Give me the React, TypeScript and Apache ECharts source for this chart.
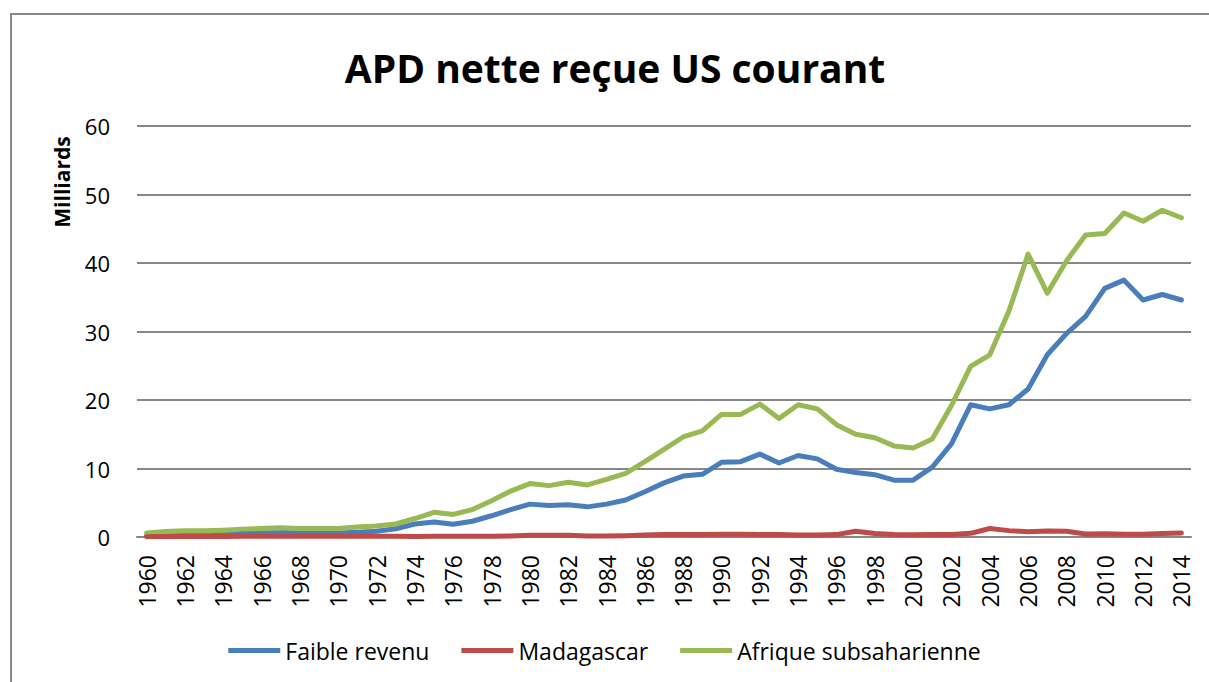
import React, { useEffect, useRef } from "react";
import * as echarts from "echarts";

const years: string[] = [];
for (let y = 1960; y <= 2014; y++) years.push(String(y));

const faibleRevenu = [
  0.2, 0.3, 0.4, 0.45, 0.5, 0.55, 0.6, 0.65, 0.6, 0.6, 0.6,
  0.7, 0.85, 1.2, 1.9, 2.2,
  1.85, 2.3, 3.1, 4.0, 4.8,
  4.6, 4.7, 4.4, 4.8, 5.4,
  6.6, 7.9, 8.9, 9.15, 10.9,
  11.0, 12.1, 10.8, 11.9, 11.4,
  9.9, 9.4, 9.1, 8.3, 8.3,
  10.2, 13.6, 19.3, 18.7, 19.3,
  21.6, 26.6, 29.7, 32.2, 36.3,
  37.5, 34.6, 35.4, 34.6,
];

const madagascar = [
  0.05, 0.08, 0.08, 0.08, 0.09, 0.1, 0.1, 0.1, 0.1, 0.1, 0.1,
  0.1, 0.1, 0.1, 0.08, 0.1,
  0.1, 0.1, 0.12, 0.15, 0.25,
  0.25, 0.25, 0.15, 0.15, 0.2,
  0.3, 0.35, 0.35, 0.35, 0.4,
  0.4, 0.35, 0.35, 0.3, 0.3,
  0.35, 0.85, 0.5, 0.35, 0.32,
  0.37, 0.37, 0.54, 1.24, 0.93,
  0.75, 0.89, 0.85, 0.45, 0.48,
  0.4, 0.4, 0.5, 0.58,
];

const afrique = [
  0.6, 0.8, 0.9, 0.9, 1.0, 1.15, 1.25, 1.35, 1.25, 1.25, 1.25,
  1.45, 1.6, 1.9, 2.7, 3.6,
  3.3, 4.0, 5.3, 6.7, 7.8,
  7.5, 8.0, 7.6, 8.4, 9.3,
  11.0, 12.8, 14.6, 15.5, 17.9,
  17.9, 19.4, 17.3, 19.3, 18.7,
  16.4, 15.0, 14.5, 13.3, 13.0,
  14.3, 19.2, 24.9, 26.6, 33.0,
  41.3, 35.6, 40.3, 44.1, 44.3,
  47.3, 46.1, 47.7, 46.6,
];

const seriesNames = ["Faible revenu", "Madagascar", "Afrique subsaharienne"];
const seriesColors = ["#4A7EBB", "#BE4B48", "#98B954"];
const titleText = "APD nette reçue US courant";
const yAxisTitle = "Milliards";

const FONT = "'Open Sans', 'Noto Sans', sans-serif";

export default function App() {
  const ref = useRef<HTMLDivElement>(null);
  useEffect(() => {
    if (!ref.current) return;
    const chart = echarts.init(ref.current, undefined, { renderer: "svg" });
    const datas = [faibleRevenu, madagascar, afrique];
    chart.setOption({
      animation: false,
      backgroundColor: "#ffffff",
      textStyle: { fontFamily: FONT },
      graphic: [
        {
          type: "rect",
          shape: { x: 11, y: 14, width: 1240, height: 700 },
          style: { fill: "none", stroke: "#878787", lineWidth: 2 },
          z: 0,
        },
        {
          type: "text",
          x: 615,
          y: 67,
          style: {
            text: titleText,
            font: `bold 39px ${FONT}`,
            fill: "#000",
            textAlign: "center",
            textVerticalAlign: "middle",
          },
        },
        {
          type: "text",
          x: 62,
          y: 182,
          rotation: Math.PI / 2,
          style: {
            text: yAxisTitle,
            font: `bold 21px ${FONT}`,
            fill: "#000",
            textAlign: "center",
            textVerticalAlign: "middle",
          },
        },
      ],
      legend: {
        data: seriesNames,
        left: "center",
        top: 634,
        icon: "rect",
        itemWidth: 52,
        itemHeight: 5,
        itemGap: 32,
        textStyle: { fontSize: 23, color: "#000", fontFamily: FONT },
      },
      grid: { left: 137, right: 18, top: 126, bottom: 145, containLabel: false },
      xAxis: {
        type: "category",
        data: years,
        boundaryGap: true,
        axisLine: { show: true, lineStyle: { color: "#878787", width: 2 } },
        axisTick: { show: false },
        axisLabel: {
          interval: 1,
          rotate: 90,
          fontSize: 23,
          color: "#000",
          margin: 18,
          fontFamily: FONT,
        },
      },
      yAxis: {
        type: "value",
        min: 0,
        max: 60,
        interval: 10,
        axisLine: { show: false },
        axisTick: { show: false },
        axisLabel: { fontSize: 22, color: "#000", margin: 27, fontFamily: FONT },
        splitLine: { lineStyle: { color: "#878787", width: 2 } },
      },
      series: seriesNames.map((name, i) => ({
        name,
        type: "line",
        data: datas[i],
        showSymbol: false,
        symbol: "none",
        smooth: false,
        color: seriesColors[i],
        lineStyle: { width: 5, color: seriesColors[i], cap: "round", join: "round" },
        z: i === 1 ? 4 : 3,
      })),
    });
    return () => chart.dispose();
  }, []);
  return (
    <div
      ref={ref}
      style={{ position: "fixed", left: 0, top: 0, width: 1209, height: 682, background: "#fff" }}
    />
  );
}
